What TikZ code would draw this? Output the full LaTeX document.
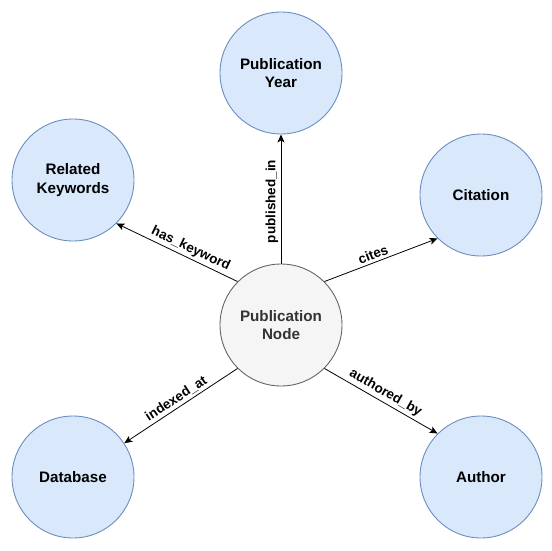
\documentclass[tikz,border=0pt]{standalone}
\usepackage{fontspec}
\setmainfont{Liberation Sans}
\usetikzlibrary{arrows.meta}
\definecolor{leaffill}{HTML}{DAE8FC}
\definecolor{leafline}{HTML}{6C8EBF}
\definecolor{hubfill}{HTML}{F5F5F5}
\definecolor{hubline}{HTML}{666666}
\definecolor{hubtext}{HTML}{333333}
\tikzset{
  leaf/.style={circle, draw=leafline, fill=leaffill, line width=0.9pt, minimum size=122pt, inner sep=0pt, align=center, font=\fontsize{15.2}{18.5}\selectfont\bfseries},
  hub/.style={leaf, draw=hubline, fill=hubfill, text=hubtext},
  rel/.style={sloped, above, inner sep=2.5pt, font=\fontsize{13.5}{15}\selectfont\bfseries},
}
\begin{document}
\begin{tikzpicture}[x=1pt, y=-1pt, >={Stealth[length=8pt, width=7pt, inset=2pt]}]
  \useasboundingbox (0,0) rectangle (552,551);
  \node[hub] (pub) at (281,325) {Publication\\Node};
  \foreach \n/\x/\y/\t in {year/281/73/{Publication\\Year}, kw/73/180/{Related\\Keywords}, cit/481/195/{Citation}, db/73/477/{Database}, auth/481/477/{Author}}
    \node[leaf] (\n) at (\x,\y) {\t};
  \foreach \a/\b/\p/\l in {135/kw.-45/0.42/has\_keyword, 90/year.-90/0.48/published\_in, 45/cit.-135/0.455/cites, -135/db/0.5/indexed\_at, -45/auth.135/0.5/authored\_by}
    \draw[->, line width=0.8pt] (pub.\a) -- node[rel, pos=\p] {\l} (\b);
\end{tikzpicture}
\end{document}
